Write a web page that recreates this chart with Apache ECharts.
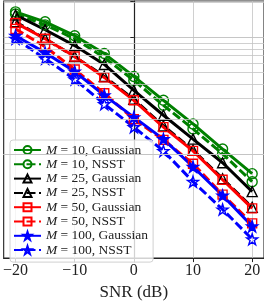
<!DOCTYPE html>
<html><head><meta charset="utf-8">
<script src="https://cdn.jsdelivr.net/npm/echarts@6/dist/echarts.min.js"></script>
<style>html,body{margin:0;padding:0;background:#fff}#c{width:264px;height:306px}</style>
</head><body><div id="c"></div>
<script>
const snr = [-20, -15, -10, -5, 0, 5, 10, 15, 20];
const xTicks = [-20, -10, 0, 10, 20];
const m10Gaussian = [0.167, 0.137, 0.104, 0.073, 0.0464, 0.0289, 0.0181, 0.0110, 0.00675];
const m10NSST = [0.160, 0.129, 0.098, 0.0675, 0.0429, 0.0262, 0.0164, 0.0100, 0.00576];
const m25Gaussian = [0.157, 0.117, 0.0855, 0.0588, 0.0352, 0.0215, 0.0134, 0.00838, 0.00473];
const m25NSST = [0.137, 0.098, 0.0688, 0.0464, 0.0295, 0.0174, 0.0108, 0.00611, 0.00346];
const m50Gaussian = [0.134, 0.098, 0.0688, 0.0455, 0.0289, 0.0170, 0.0106, 0.00599, 0.00339];
const m50NSST = [0.119, 0.0838, 0.0533, 0.0332, 0.0199, 0.0132, 0.00821, 0.00446, 0.00252];
const m100Gaussian = [0.104, 0.0744, 0.0512, 0.0319, 0.0207, 0.0134, 0.00774, 0.00438, 0.00238];
const m100NSST = [0.098, 0.0661, 0.0438, 0.0268, 0.0170, 0.0106, 0.00576, 0.00332, 0.00184];
const minorGrid = [0.002, 0.003, 0.004, 0.005, 0.006, 0.007, 0.008, 0.009,
                   0.02, 0.03, 0.04, 0.05, 0.06, 0.07, 0.08, 0.09, 0.2];
const names = ['M = 10, Gaussian', 'M = 10, NSST', 'M = 25, Gaussian', 'M = 25, NSST',
               'M = 50, Gaussian', 'M = 50, NSST', 'M = 100, Gaussian', 'M = 100, NSST'];

const FONT = 'Liberation Serif';
const T = 'rgba(0,0,0,0)';
const STAR = 'path://M50,0 L61.8,35.4 L99,35.4 L69,57.3 L80.4,92.7 L50,70.8 L19.6,92.7 L31,57.3 L1,35.4 L38.2,35.4 Z';
function mk(name, vals, color, symbol, dashed, filled, size) {
  return {
    name: name, type: 'line', z: 3,
    data: snr.map((x, i) => [x, vals[i]]),
    symbol: symbol, symbolSize: size,
    lineStyle: { color: color, width: 3, type: dashed ? [9, 3.5] : 'solid' },
    itemStyle: { color: filled ? color : T, borderColor: color, borderWidth: 1.4 },
    emphasis: { disabled: true }
  };
}
const series = [
  mk(names[0], m10Gaussian, '#008000', 'circle', false, false, 10),
  mk(names[1], m10NSST, '#008000', 'circle', true, false, 10),
  mk(names[2], m25Gaussian, '#000000', 'triangle', false, false, 10),
  mk(names[3], m25NSST, '#000000', 'triangle', true, false, 10),
  mk(names[4], m50Gaussian, '#ff0000', 'rect', false, false, 9),
  mk(names[5], m50NSST, '#ff0000', 'rect', true, false, 9),
  mk(names[6], m100Gaussian, '#0000ff', STAR, false, true, 11),
  mk(names[7], m100NSST, '#0000ff', STAR, true, false, 11),
  {
    name: 'minor', type: 'line', z: 1, data: [], silent: true,
    markLine: {
      silent: true, symbol: 'none', animation: false,
      label: { show: false },
      lineStyle: { color: '#c4c4c4', width: 0.8, type: 'solid' },
      data: minorGrid.map(v => ({ yAxis: v }))
    }
  }
];

const chart = echarts.init(document.getElementById('c'), null, { renderer: 'canvas' });
chart.setOption({
  animation: false,
  grid: { left: 3.5, right: 0, top: 1, bottom: 46, show: true, borderColor: '#222', borderWidth: 1.1, backgroundColor: 'transparent' },
  xAxis: {
    type: 'value', min: -22, max: 22,
    axisLine: { lineStyle: { color: '#222', width: 1.2 } },
    axisTick: { customValues: xTicks, length: 4, lineStyle: { color: '#222', width: 1 } },
    axisLabel: {
      customValues: xTicks, margin: 5, color: '#222', fontFamily: FONT, fontSize: 16,
      formatter: v => (v < 0 ? '\u2212' + (-v) : '' + v)
    },
    splitLine: { show: true, lineStyle: { color: '#c4c4c4', width: 0.8 } },
    name: 'SNR (dB)', nameLocation: 'middle', nameGap: 22,
    nameTextStyle: { color: '#222', fontFamily: FONT, fontSize: 17 }
  },
  yAxis: {
    type: 'log', logBase: 10, min: 0.001266, max: 0.207,
    axisLine: { show: true, lineStyle: { color: '#222', width: 1.2 } },
    axisTick: { show: true, length: 3.5, lineStyle: { color: '#222', width: 1 } },
    axisLabel: { show: false },
    splitLine: { show: true, lineStyle: { color: '#b8b8b8', width: 0.8 } }
  },
  legend: {
    data: names, orient: 'vertical', left: 10, top: 140,
    itemWidth: 27, itemHeight: 10, itemGap: 0.3,
    padding: [3, 5, 5, 3],
    backgroundColor: 'rgba(255,255,255,0.8)', borderColor: '#d0d0d0', borderWidth: 1, borderRadius: 3,
    selectedMode: false,
    textStyle: {
      color: '#222', fontFamily: FONT, fontSize: 13.5, lineHeight: 13,
      rich: {
        i: { fontStyle: 'italic', fontFamily: FONT, fontSize: 13.5, lineHeight: 13, color: '#222' },
        t: { fontFamily: FONT, fontSize: 13.5, lineHeight: 13, color: '#222' }
      }
    },
    formatter: n => '{i|M}{t|' + n.slice(1) + '}'
  },
  series: series
});
</script></body></html>
